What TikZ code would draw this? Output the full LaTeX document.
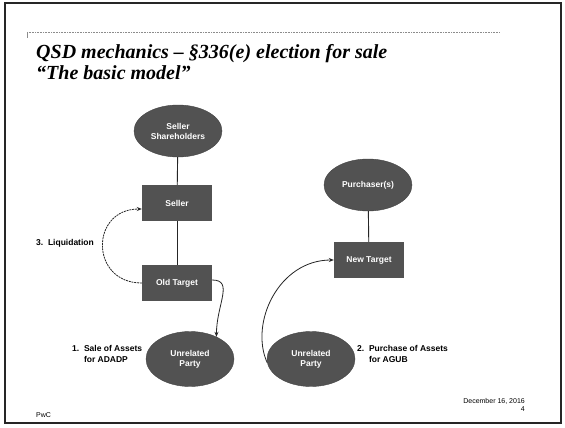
\documentclass[tikz,border=0pt]{standalone}
\usepackage{fontspec}
\setmainfont{Liberation Sans}
\newfontfamily\titlefont{Liberation Serif}
\usetikzlibrary{shapes.geometric,arrows.meta}
\definecolor{boxgray}{HTML}{525252}
\tikzset{
  ell/.style={ellipse, fill=boxgray, draw=boxgray!80!black, line width=0.4pt, minimum width=88pt, minimum height=52pt, inner sep=0pt, text=white, font=\bfseries\fontsize{8.5}{10}\selectfont, align=center},
  boxnode/.style={rectangle, fill=boxgray, minimum width=70pt, minimum height=36pt, inner sep=0pt, text=white, font=\bfseries\fontsize{8.5}{10}\selectfont, align=center},
  lbl/.style={font=\bfseries\fontsize{8.5}{11}\selectfont, align=left, inner sep=0pt},
  link/.style={line width=0.9pt, black!85},
  arr/.style={line width=0.8pt, black!85, -{Stealth[length=5pt,width=4pt]}},
}
\begin{document}
\begin{tikzpicture}[x=1pt,y=-1pt]
\useasboundingbox (0,0) rectangle (565,428);
\fill[white] (0,0) rectangle (565,428);
% frame
\draw[line width=2pt, black!85] (5,3) rectangle (561,423);
% title rule
\draw[line width=0.6pt, black!45, dash pattern=on 1pt off 0.6pt] (27,32) -- (500,32);
\draw[line width=0.6pt, black!45] (27,32) -- (27,38);
% title
\node[anchor=base west, inner sep=0pt, font=\titlefont\bfseries\itshape\fontsize{20}{20}\selectfont] (t1) at (36,59) {QSD mechanics – §336(e) election for sale};
\node[anchor=base west, inner sep=0pt, font=\titlefont\bfseries\itshape\fontsize{20}{20}\selectfont] (t2) at (36,79) {“The basic model”};
% nodes
\node[ell] (ss) at (178,131) {Seller\\Shareholders};
\node[boxnode] (sel) at (177,203) {Seller};
\node[boxnode] (ot) at (177,283) {Old Target};
\node[ell, minimum height=55pt] (up1) at (190,359) {Unrelated\\Party};
\node[ell] (pur) at (368,185) {Purchaser(s)};
\node[boxnode] (nt) at (369,260) {New Target};
\node[ell, minimum height=55pt] (up2) at (311,359) {Unrelated\\Party};
% connectors
\draw[link] (ss) -- (sel);
\draw[link] (sel) -- (ot);
\draw[link] (pur) -- (nt);
\draw[arr, dash pattern=on 2pt off 0.8pt] (ot.west) .. controls +(-52,0) and +(-52,0) .. ([yshift=-6pt]sel.west);
\draw[arr] ([yshift=3pt]ot.east) .. controls +(22,0) and +(0,-32) .. (up1.40);
\draw[arr] (up2.185) .. controls +(-18,-40) and +(-55,0) .. (nt.west);
% labels
\node[lbl, anchor=west] (liq) at (36,243) {3.\ \ Liquidation};
\node[lbl, anchor=north west] (l1) at (72,345) {1.\ \ Sale of Assets\\\phantom{1.\ \ }for ADADP};
\node[lbl, anchor=north west] (l2) at (357,345) {2.\ \ Purchase of Assets\\\phantom{2.\ \ }for AGUB};
% footer
\node[font=\fontsize{7}{8.5}\selectfont, anchor=north east, align=right, inner sep=0pt] (date) at (525,398) {December 16, 2016\\4};
\node[font=\fontsize{7}{8}\selectfont, anchor=west, inner sep=0pt] (pwc) at (36,415) {PwC};
\end{tikzpicture}
\end{document}
